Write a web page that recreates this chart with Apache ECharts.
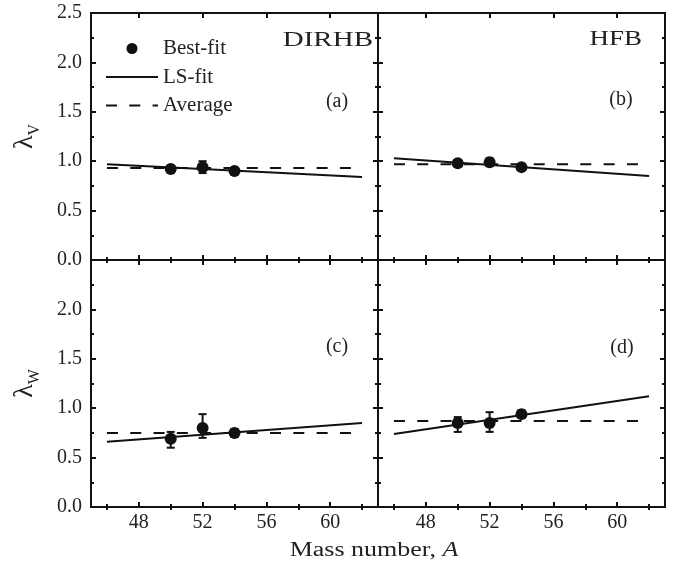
<!DOCTYPE html>
<html>
<head>
<meta charset="utf-8">
<script src="https://cdn.jsdelivr.net/npm/echarts@6/dist/echarts.min.js"></script>
<style>
  html, body { margin: 0; padding: 0; background: #fff; }
  #chart { width: 683px; height: 567px; }
</style>
</head>
<body>
<div id="chart"></div>
<script>
// x values
const massNumbers = [50, 52, 54];
const fitEnds = [46, 62];
const majorTicksA = [48, 52, 56, 60];
const minorTicksA = [46, 50, 54, 58, 62];

// (a) DIRHB, lambda_V
const bestVDirhb = [0.92, 0.94, 0.90];
const lowVDirhb = [0.89, 0.88, 0.87];
const highVDirhb = [0.95, 1.00, 0.93];
const lsVDirhb = [0.97, 0.84];
const avgVDirhb = 0.93;

// (b) HFB, lambda_V
const bestVHfb = [0.98, 0.99, 0.94];
const lowVHfb = [0.95, 0.95, 0.91];
const highVHfb = [1.01, 1.03, 0.97];
const lsVHfb = [1.03, 0.85];
const avgVHfb = 0.97;

// (c) DIRHB, lambda_W
const bestWDirhb = [0.69, 0.80, 0.75];
const lowWDirhb = [0.60, 0.70, 0.71];
const highWDirhb = [0.76, 0.94, 0.79];
const lsWDirhb = [0.66, 0.85];
const avgWDirhb = 0.75;

// (d) HFB, lambda_W
const bestWHfb = [0.85, 0.85, 0.94];
const lowWHfb = [0.76, 0.76, 0.90];
const highWHfb = [0.91, 0.96, 0.98];
const lsWHfb = [0.74, 1.12];
const avgWHfb = 0.87;

const panelTags = ['(a)', '(b)', '(c)', '(d)'];

const font = 'Liberation Serif';
const ink = '#111';

let panels = [
  {best: bestVDirhb, low: lowVDirhb, high: highVDirhb, ls: lsVDirhb, avg: avgVDirhb},
  {best: bestVHfb, low: lowVHfb, high: highVHfb, ls: lsVHfb, avg: avgVHfb},
  {best: bestWDirhb, low: lowWDirhb, high: highWDirhb, ls: lsWDirhb, avg: avgWDirhb},
  {best: bestWHfb, low: lowWHfb, high: highWHfb, ls: lsWHfb, avg: avgWHfb}
]

let grids = [
  {left: 91, top: 13, width: 287, height: 247},
  {left: 378, top: 13, width: 287, height: 247},
  {left: 91, top: 260, width: 287, height: 247},
  {left: 378, top: 260, width: 287, height: 247}
]

let xAxes = []
let yAxes = []
let series = []

grids.forEach((gr, g) => {
  let bottomRow = g >= 2
  let leftCol = g % 2 === 0
  let base = {
    type: 'value', gridIndex: g, min: 45, max: 63,
    splitLine: {show: false}
  }
  let lineSt = {color: ink, width: 2}
  // major ticks, bottom and top
  ;['bottom', 'top'].forEach(pos => {
    xAxes.push(Object.assign({}, base, {
      position: pos,
      axisLine: {show: true, onZero: false, lineStyle: lineSt},
      axisTick: {show: true, inside: true, length: 5, customValues: majorTicksA, lineStyle: lineSt},
      axisLabel: {
        show: bottomRow && pos === 'bottom', customValues: majorTicksA, margin: 6,
        color: '#222', fontSize: 20, fontFamily: font
      }
    }))
  })
  // minor ticks
  ;['bottom', 'top'].forEach(pos => {
    xAxes.push(Object.assign({}, base, {
      position: pos,
      axisLine: {show: false},
      axisTick: {show: true, inside: true, length: 3, customValues: minorTicksA, lineStyle: lineSt},
      axisLabel: {show: false}
    }))
  })
  ;['left', 'right'].forEach(pos => {
    let ax = {
      type: 'value', gridIndex: g, position: pos, min: 0, max: 2.5, interval: 0.5,
      splitLine: {show: false},
      axisLine: {show: true, onZero: false, lineStyle: lineSt},
      axisTick: {show: true, inside: true, length: 5, lineStyle: lineSt},
      minorTick: {show: true, splitNumber: 2, length: 3, lineStyle: lineSt},
      axisLabel: {
        show: leftCol && pos === 'left', margin: 9,
        color: '#222', fontSize: 20, fontFamily: font,
        formatter: v => (bottomRow && v === 2.5) ? '' : v.toFixed(1)
      }
    }
    if (leftCol && pos === 'left') {
      ax.name = bottomRow ? '{l|λ}{s|W}' : '{l|λ}{s|V}'
      ax.nameLocation = 'middle'
      ax.nameRotate = 90
      ax.nameGap = 48
      ax.nameTextStyle = {
        color: '#222', fontFamily: font,
        rich: {
          l: {fontSize: 28, lineHeight: 32, verticalAlign: 'top', fontFamily: font, color: '#222'},
          s: {fontSize: 16, lineHeight: 16, verticalAlign: 'bottom', fontFamily: font, color: '#222'}
        }
      }
    }
    yAxes.push(ax)
  })

  let p = panels[g]
  let xi = 4 * g, yi = 2 * g
  series.push({
    name: 'LS-fit', type: 'line', xAxisIndex: xi, yAxisIndex: yi,
    symbol: 'none', silent: true, z: 2,
    itemStyle: {color: ink, opacity: 0},
    lineStyle: {color: ink, width: 2, opacity: 1},
    data: fitEnds.map((x, i) => [x, p.ls[i]])
  })
  series.push({
    name: 'Average', type: 'line', xAxisIndex: xi, yAxisIndex: yi,
    symbol: 'none', silent: true, z: 2,
    itemStyle: {color: ink, opacity: 0},
    lineStyle: {color: ink, width: 2, opacity: 1, type: [11, 12.3]},
    data: fitEnds.map(x => [x, p.avg])
  })
  series.push({
    name: 'err', type: 'custom', xAxisIndex: xi, yAxisIndex: yi, z: 3,
    renderItem: (params, api) => {
      let x = api.value(0)
      let lo = api.coord([x, api.value(1)])
      let hi = api.coord([x, api.value(2)])
      let st = {stroke: ink, lineWidth: 2}
      return {
        type: 'group',
        children: [
          {type: 'line', shape: {x1: lo[0], y1: lo[1], x2: hi[0], y2: hi[1]}, style: st},
          {type: 'line', shape: {x1: lo[0] - 4, y1: lo[1], x2: lo[0] + 4, y2: lo[1]}, style: st},
          {type: 'line', shape: {x1: hi[0] - 4, y1: hi[1], x2: hi[0] + 4, y2: hi[1]}, style: st}
        ]
      }
    },
    data: massNumbers.map((x, i) => [x, p.low[i], p.high[i]])
  })
  series.push({
    name: 'Best-fit', type: 'scatter', xAxisIndex: xi, yAxisIndex: yi, z: 4,
    symbol: 'circle', symbolSize: 12,
    itemStyle: {color: ink, opacity: 1},
    data: massNumbers.map((x, i) => [x, p.best[i]])
  })
})

const tagPos = [[337, 102], [621, 100], [337, 347], [622, 348]]

let graphics = [
  {type: 'text', x: 373, y: 41, scaleX: 1.45,
   style: {text: 'DIRHB', align: 'right', verticalAlign: 'middle', fill: '#222', font: '20px "Liberation Serif"'}},
  {type: 'text', x: 642, y: 40, scaleX: 1.35,
   style: {text: 'HFB', align: 'right', verticalAlign: 'middle', fill: '#222', font: '20px "Liberation Serif"'}},
  {type: 'text', x: 374, y: 551, scaleX: 1.3,
   style: {
     text: '{n|Mass number, }{i|A}', align: 'center', verticalAlign: 'middle',
     rich: {
       n: {fontSize: 20, fontFamily: font, fill: '#222'},
       i: {fontSize: 20, fontFamily: font, fontStyle: 'italic', fill: '#222'}
     }
   }}
]
panelTags.forEach((t, i) => {
  graphics.push({type: 'text', x: tagPos[i][0], y: tagPos[i][1],
    style: {text: t, align: 'center', verticalAlign: 'middle', fill: '#222', font: '20px "Liberation Serif"'}})
})

let myChart = echarts.init(document.getElementById('chart'))
let option = {
  backgroundColor: '#fff',
  animation: false,
  grid: grids,
  xAxis: xAxes,
  yAxis: yAxes,
  legend: {
    data: ['Best-fit', 'LS-fit', 'Average'],
    orient: 'vertical', left: 105, top: 38, padding: 0,
    itemWidth: 52, itemHeight: 11, itemGap: 7.5,
    selectedMode: false,
    textStyle: {fontSize: 21, fontFamily: font, color: '#222'}
  },
  graphic: graphics,
  series: series
}
myChart.setOption(option)
</script>
</body>
</html>
